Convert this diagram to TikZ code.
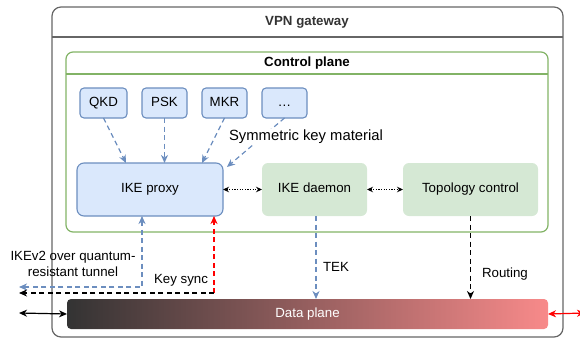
\documentclass[tikz,border=0pt]{standalone}
\usepackage{fontspec}
\setmainfont{Liberation Sans}
\usetikzlibrary{arrows.meta,calc}
\definecolor{bluefill}{HTML}{DAE8FC}
\definecolor{bluestroke}{HTML}{6C8EBF}
\definecolor{greenfill}{HTML}{D5E8D4}
\definecolor{greenstroke}{HTML}{82B366}
\definecolor{graystroke}{HTML}{666666}
\definecolor{darktext}{HTML}{333333}
\definecolor{dpleft}{HTML}{333333}
\definecolor{dpright}{HTML}{F88A8A}
\begin{document}
\begin{tikzpicture}[x=1pt,y=-1pt,
  every node/.style={font=\fontsize{13.3}{15.5}\selectfont, inner sep=0pt, outer sep=0pt},
  >={Stealth[length=8pt,width=7pt,inset=2.5pt]},
  boxtext/.style={text height=9.6pt, text depth=2.7pt},
  bluebox/.style={draw=bluestroke, fill=bluefill, line width=1.1pt, rounded corners=4pt, anchor=north west, boxtext},
  greenbox/.style={fill=greenfill, rounded corners=6pt, anchor=north west, boxtext},
  bluedash/.style={draw=bluestroke, line width=1.2pt, dash pattern=on 5pt off 3.5pt},
  blackdash/.style={draw=black, line width=1.2pt, dash pattern=on 5pt off 3.5pt},
  reddash/.style={draw=red, line width=1.2pt, dash pattern=on 5pt off 3.5pt},
  dottedarrow/.style={draw=black, line width=1.2pt, dash pattern=on 1.2pt off 1.4pt,
    {Stealth[length=6pt,width=5.5pt,inset=2pt,sep=0pt]}-{Stealth[length=6pt,width=5.5pt,inset=2pt]}},
  lbl/.style={align=center}
]
\useasboundingbox (0,0) rectangle (580,340);

% outer container
\node[draw=graystroke, line width=1.2pt, rounded corners=9pt, anchor=north west,
      minimum width=511pt, minimum height=330pt] (outer) at (52,7) {};
\draw[graystroke, line width=1.2pt] (52,37) coordinate (oh1) -- (563,37) coordinate (oh2);
\node[font=\fontsize{13.3}{15.5}\selectfont\bfseries, text=darktext] (outertitle) at (307,22) {VPN gateway};

% control plane
\node[draw=greenstroke, line width=1.2pt, rounded corners=7pt, anchor=north west,
      minimum width=482pt, minimum height=180pt] (ctrl) at (66,52) {};
\draw[greenstroke, line width=1.2pt] (66,74) coordinate (ch1) -- (548,74) coordinate (ch2);
\node[font=\fontsize{13.3}{15.5}\selectfont\bfseries] (ctrltitle) at (307,63) {Control plane};

% key sources
\node[bluebox, minimum width=47pt, minimum height=30pt] (qkd) at (80,88) {QKD};
\node[bluebox, minimum width=45pt, minimum height=30pt] (psk) at (142,88) {PSK};
\node[bluebox, minimum width=45pt, minimum height=30pt] (mkr) at (202,88) {MKR};
\node[bluebox, minimum width=45pt, minimum height=30pt] (dots) at (262,88) {.\kern0.6pt.\kern0.6pt.};

% main components
\node[bluebox, rounded corners=7pt, minimum width=146pt, minimum height=53pt] (proxy) at (77,163) {IKE proxy};
\node[greenbox, minimum width=105pt, minimum height=53pt] (daemon) at (262,163) {IKE daemon};
\node[greenbox, minimum width=135pt, minimum height=53pt] (topo) at (403,163) {Topology control};

% data plane
\node[anchor=north west, rounded corners=4pt, left color=dpleft, right color=dpright, boxtext,
      minimum width=481pt, minimum height=30pt, text=white] (dp) at (67,299) {Data plane};

% key material arrows
\draw[bluedash, ->, color=bluestroke] (qkd.south) -- ($(proxy.north west)+(49,0)$);
\draw[bluedash, ->, color=bluestroke] (psk.south) -- (psk.south |- proxy.north);
\draw[bluedash, ->, color=bluestroke] (mkr.south) -- ($(proxy.north west)+(125,0)$);
\draw[bluedash, ->, color=bluestroke] (dots.south) -- ($(proxy.north east)+(4,4)$);
\node[fill=white, inner sep=1pt, font=\fontsize{14.8}{17}\selectfont] (skm) at (306,137) {Symmetric key material};

% dotted links
\draw[dottedarrow] (proxy.east) -- (daemon.west);
\draw[dottedarrow] (daemon.east) -- (topo.west);

% TEK and Routing
\draw[bluedash, ->, color=bluestroke] ($(daemon.south)+(1.5,0)$) -- ($(daemon.south |- dp.north)+(1.5,0)$);
\node[anchor=west] (tek) at (323,267) {TEK};
\draw[blackdash, ->] (topo.south) -- (topo.south |- dp.north);
\node[anchor=west] (routing) at (482,274) {Routing};

% IKEv2 tunnel
\coordinate (pb) at ($(proxy.south west)+(65,0)$);
\coordinate (pbc) at (pb |- 0,287);
\coordinate (leftb) at (19,287);
\draw[bluedash, <->, color=bluestroke] (pb) -- (pbc) -- (leftb);
\node[lbl] (ikev2) at (73,264) {IKEv2 over quantum-\\resistant tunnel};

% key sync
\coordinate (ks) at (214,293);
\coordinate (leftk) at (19,293);
\draw[reddash, ->, color=red] (ks) -- (ks |- proxy.south);
\draw[blackdash, ->] (ks) -- (leftk);
\node (keysync) at (181,280) {Key sync};

% data plane external links
\coordinate (leftd) at (19,313);
\coordinate (rightd) at (585,313);
\draw[line width=1.2pt, <->] (leftd) -- (dp.west);
\draw[line width=1.2pt, red, <->] (dp.east) -- (rightd);
\end{tikzpicture}
\end{document}
